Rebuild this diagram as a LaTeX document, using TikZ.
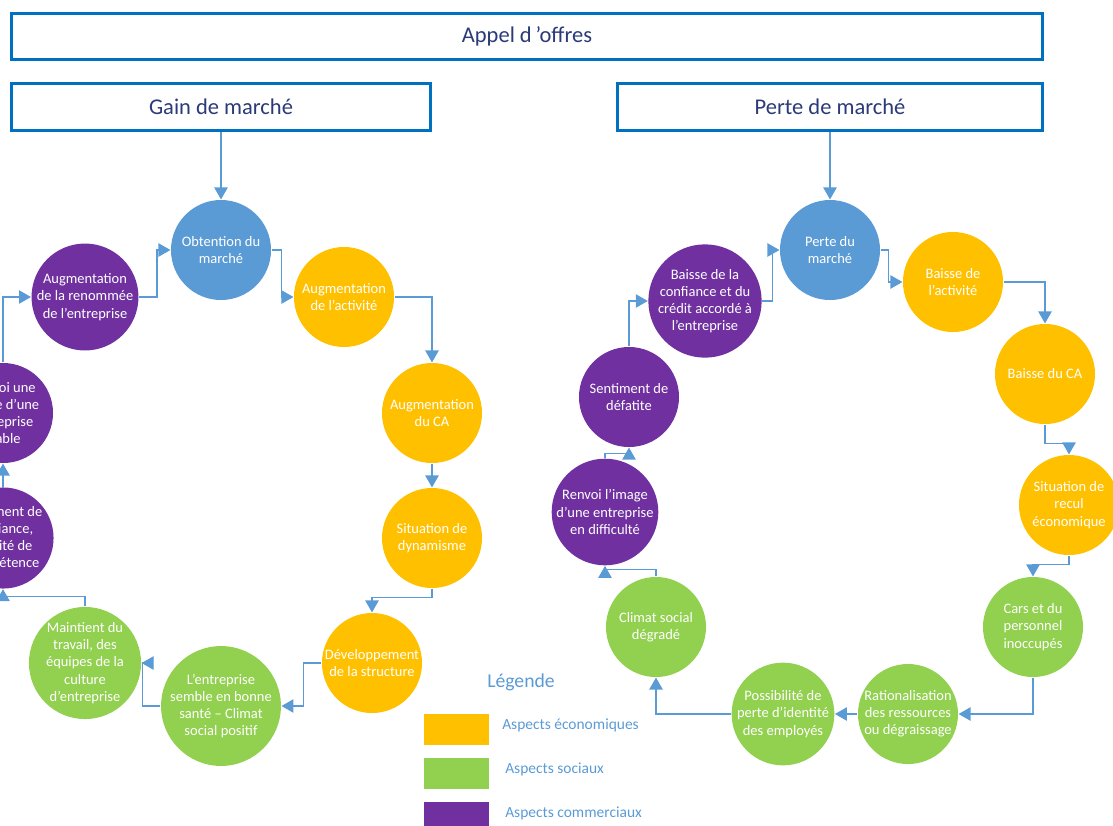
\documentclass[tikz,border=0pt]{standalone}
\usepackage{fontspec}
\setmainfont{Carlito}
\usetikzlibrary{arrows.meta}

\definecolor{bleu}{HTML}{5B9BD5}
\definecolor{jaune}{HTML}{FFC000}
\definecolor{vert}{HTML}{92D050}
\definecolor{violet}{HTML}{7030A0}
\definecolor{cadre}{HTML}{0070C0}
\definecolor{titre}{HTML}{2B3A78}

\begin{document}
\begin{tikzpicture}[x=0.025cm,y=-0.025cm,->,>={Triangle[length=8.5pt,width=9.5pt]},draw=bleu,line width=0.8pt]
  \tikzstyle{boite}=[draw=cadre,line width=2.2pt,fill=white,text=titre,minimum height=1.16cm,font=\fontsize{16}{19}\selectfont]
  \tikzstyle{etape}=[circle,minimum size=2.5cm,inner sep=0pt,align=center,text=white,font=\fontsize{10.3}{12.2}\selectfont]
  \tikzstyle{carre}=[minimum width=1.625cm,minimum height=0.775cm,inner sep=0pt]
  \tikzstyle{legende}=[anchor=west,text=bleu,font=\fontsize{11}{13}\selectfont]

  \useasboundingbox (0,0) rectangle (1113,825);

  % en-tetes
  \node[boite,minimum width=25.75cm] (AO) at (527,36.5) {Appel d\,’offres};
  \node[boite,minimum width=10.45cm] (G) at (221,107) {Gain de marché};
  \node[boite,minimum width=10.6cm] (P) at (830,107) {Perte de marché};

  % cycle gain
  \node[etape,fill=bleu] (G1) at (221,250) {Obtention du\\marché};
  \node[etape,fill=jaune] (G2) at (344,297) {Augmentation\\de l’activité};
  \node[etape,fill=jaune] (G3) at (432,413) {Augmentation\\du CA};
  \node[etape,fill=jaune] (G4) at (432,538) {Situation de\\dynamisme};
  \node[etape,fill=jaune] (G5) at (372,663) {Développement\\de la structure};
  \node[etape,fill=vert] (G6) at (221,706) {L’entreprise\\semble en bonne\\santé – Climat\\social positif};
  \node[etape,fill=vert] (G7) at (85,663) {Maintient du\\travail, des\\équipes de la\\culture\\d’entreprise};
  \node[etape,fill=violet] (G8) at (3,538) {Sentiment de\\confiance,\\qualité de\\compétence};
  \node[etape,fill=violet] (G9) at (3,413) {Renvoi une\\image d’une\\entreprise\\stable};
  \node[etape,fill=violet] (G10) at (85,297) {Augmentation\\de la renommée\\de l’entreprise};

  % cycle perte
  \node[etape,fill=bleu] (P1) at (830,250) {Perte du\\marché};
  \node[etape,fill=jaune] (P2) at (953,282) {Baisse de\\l’activité};
  \node[etape,fill=jaune] (P3) at (1045,374) {Baisse du CA};
  \node[etape,fill=jaune] (P4) at (1069,505) {Situation de\\recul\\économique};
  \node[etape,fill=vert] (P5) at (1033,627) {Cars et du\\personnel\\inoccupés};
  \node[etape,fill=vert] (P6) at (908,714) {Rationalisation\\des ressources\\ou dégraissage};
  \node[etape,fill=vert] (P7) at (783,714) {Possibilité de\\perte d’identité\\des employés};
  \node[etape,fill=vert] (P8) at (656,627) {Climat social\\dégradé};
  \node[etape,fill=violet] (P9) at (605,512) {Renvoi l’image\\d’une entreprise\\en difficulté};
  \node[etape,fill=violet] (P10) at (629,397) {Sentiment de\\défatite};
  \node[etape,fill=violet] (P11) at (705,301) {Baisse de la\\confiance et du\\crédit accordé à\\l’entreprise};

  % legende
  \node[text=bleu,font=\fontsize{14}{16}\selectfont] (L) at (521,682) {Légende};
  \node[carre,fill=jaune] (L1) at (456.5,729.5) {};
  \node[carre,fill=vert] (L2) at (456.5,773.5) {};
  \node[carre,fill=violet] (L3) at (456.5,817) {};
  \node[legende] (T1) at (497,725) {Aspects économiques};
  \node[legende] (T2) at (500,769) {Aspects sociaux};
  \node[legende] (T3) at (500,813) {Aspects commerciaux};

  % fleches gain
  \draw (G.south) -- (G1.north);
  \draw (G1.east) -- ++(10,0) |- (G2.west);
  \draw (G2.east) -| (G3.north);
  \draw (G3.south) -- (G4.north);
  \draw (G4.south) -- ++(0,9) -| (G5.north);
  \draw (G5.west) -- ++(-18,0) |- (G6.east);
  \draw (G6.west) -- ++(-18,0) |- (G7.east);
  \draw (G7.north) -- ++(0,-10) -| (G8.south);
  \draw (G8.north) -- (G9.south);
  \draw (G9.north) |- (G10.west);
  \draw (G10.east) -- ++(18,0) |- (G1.west);

  % fleches perte
  \draw (P.south) -- (P1.north);
  \draw (P1.east) -- ++(8,0) |- (P2.west);
  \draw (P2.east) -| (P3.north);
  \draw (P3.south) -- ++(0,19) -| (P4.north);
  \draw (P4.south) -- ++(0,9) -| (P5.north);
  \draw (P5.south) |- (P6.east);
  \draw (P6.west) -- (P7.east);
  \draw (P7.west) -| (P8.south);
  \draw (P8.north) -- ++(0,-7) -| (P9.south);
  \draw (P9.north) -- ++(0,-5) -| (P10.south);
  \draw (P10.north) |- (P11.west);
  \draw (P11.east) -- ++(10,0) |- (P1.west);
\end{tikzpicture}
\end{document}
